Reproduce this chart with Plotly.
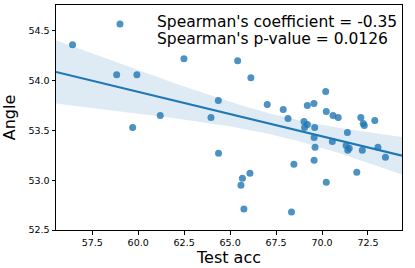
import numpy as np
import plotly.graph_objects as go

test_acc = [56.43, 59.01, 58.83, 59.93, 59.70, 61.20, 62.49, 63.96, 64.36, 64.37,
            65.41, 66.13, 65.67, 65.59, 66.08, 65.75, 67.02, 67.89, 68.15, 68.34,
            68.47, 69.02, 69.20, 69.05, 69.60, 69.20, 69.56, 70.20, 70.23, 70.60,
            70.88, 69.57, 69.62, 69.57, 70.23, 70.56, 71.38, 71.31, 71.48, 71.40,
            72.19, 73.04, 73.45, 71.89, 72.11, 72.24, 72.30, 72.87]
angle = [54.36, 54.57, 54.06, 54.06, 53.53, 53.65, 54.22, 53.63, 53.80, 53.27,
         54.20, 54.03, 53.02, 52.95, 53.07, 52.71, 53.76, 53.71, 53.62, 52.68,
         53.16, 53.59, 53.56, 53.53, 53.53, 53.75, 53.77, 53.89, 53.69, 53.65,
         53.63, 53.43, 53.33, 53.20, 52.98, 53.39, 53.48, 53.35, 53.32, 53.30,
         53.30, 53.33, 53.23, 53.08, 53.63, 53.57, 53.55, 53.60]

x_ticks = [57.5, 60.0, 62.5, 65.0, 67.5, 70.0, 72.5]
y_ticks = [52.5, 53.0, 53.5, 54.0, 54.5]
x_range = [55.53, 74.35]
y_range = [52.5, 54.76]
annot_lines = ["Spearman's coefficient = -0.35", "Spearman's p-value = 0.0126"]
x_title = "Test acc"
y_title = "Angle"

BLUE = "#1f77b4"
FONT = "DejaVu Sans"

x = np.array(test_acc)
y = np.array(angle)
n = len(x)
slope, intercept = np.polyfit(x, y, 1)
grid = np.linspace(x_range[0], x_range[1], 100)
yhat = intercept + slope * grid
resid = y - (intercept + slope * x)
s = np.sqrt(np.sum(resid ** 2) / (n - 2))
sxx = np.sum((x - x.mean()) ** 2)
se = s * np.sqrt(1.0 / n + (grid - x.mean()) ** 2 / sxx)
tval = 2.013
upper = yhat + tval * se
lower = yhat - tval * se

fig = go.Figure()
fig.add_trace(go.Scatter(x=np.concatenate([grid, grid[::-1]]),
                         y=np.concatenate([upper, lower[::-1]]),
                         fill="toself", fillcolor="rgba(31,119,180,0.15)",
                         line=dict(width=0), hoverinfo="skip", showlegend=False))
fig.add_trace(go.Scatter(x=x, y=y, mode="markers",
                         marker=dict(color=BLUE, size=7, opacity=0.8, line=dict(width=0)),
                         showlegend=False))
fig.add_trace(go.Scatter(x=grid, y=yhat, mode="lines",
                         line=dict(color=BLUE, width=2.2), showlegend=False))

axis_common = dict(showgrid=False, zeroline=False, showline=True, mirror=True,
                   linecolor="black", linewidth=1, ticks="outside", ticklen=3.5,
                   tickwidth=0.8, tickcolor="black",
                   tickfont=dict(family=FONT, size=9.5, color="black"))

fig.update_xaxes(range=x_range, tickvals=x_ticks, ticktext=[f"{v:.1f}" for v in x_ticks],
                 title=dict(text=x_title, font=dict(family=FONT, size=16, color="black"), standoff=4),
                 **axis_common)
fig.update_yaxes(range=y_range, tickvals=y_ticks, ticktext=[f"{v:.1f}" for v in y_ticks],
                 title=dict(text=y_title, font=dict(family=FONT, size=16, color="black"), standoff=8),
                 **axis_common)

plot_h = 225.0
line_y_px = [17.5, 34.0]
for txt, py in zip(annot_lines, line_y_px):
    fig.add_annotation(text=txt, xref="paper", yref="paper",
                       x=(155 - 56) / 346.0, y=1 - py / plot_h,
                       xanchor="left", yanchor="middle", showarrow=False,
                       font=dict(family=FONT, size=15.5, color="black"))

fig.update_layout(width=415, height=268, margin=dict(l=56, r=13, t=5, b=38, autoexpand=False),
                  plot_bgcolor="white", paper_bgcolor="white",
                  font=dict(family=FONT, color="black"))

fig.write_html("out.html", config={"displayModeBar": False},
               post_script="document.body.style.margin='0';document.body.style.padding='0';")
